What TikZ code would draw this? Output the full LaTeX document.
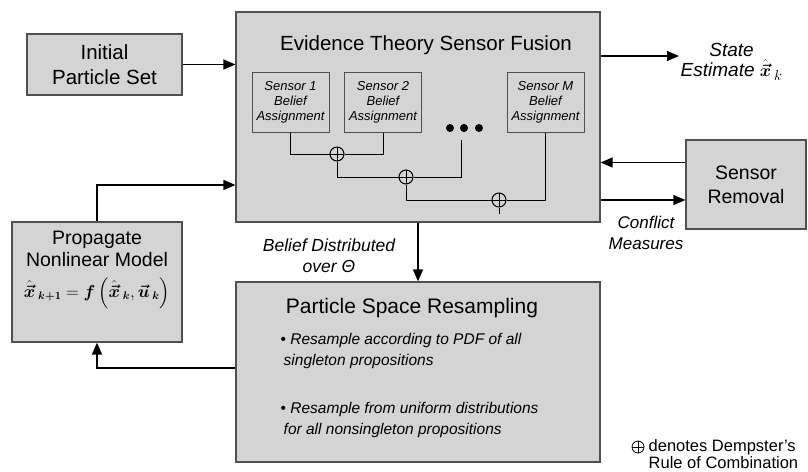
\documentclass[tikz,border=0pt]{standalone}
\usepackage{fontspec}
\setmainfont{Liberation Sans}
\usepackage{amsmath,bm}
\usetikzlibrary{arrows.meta}
\definecolor{boxgray}{RGB}{212,212,212}
\definecolor{edgegray}{RGB}{80,80,80}

\begin{document}
\begin{tikzpicture}[
    x=1pt, y=-1pt,
    line width=1.4pt,
    box/.style={draw=edgegray,fill=boxgray,line width=1.2pt,inner sep=0pt},
    sensorbox/.style={box,line width=1pt,minimum width=77pt,minimum height=60pt,
        align=center,font=\fontsize{13}{15}\selectfont\itshape},
    heading/.style={align=center,inner sep=1pt,font=\fontsize{20}{24.5}\selectfont},
    note/.style={align=center,inner sep=1pt,font=\fontsize{17.5}{21}\selectfont\itshape},
    arrow/.style={-{Triangle[length=12pt,width=10pt]},line width=1.5pt},
    wire/.style={line width=1pt},
    oplus/.style={circle,draw,line width=1pt,minimum size=14pt,inner sep=0pt,
        path picture={\draw[line width=1pt]
            (path picture bounding box.north) -- (path picture bounding box.south)
            (path picture bounding box.west) -- (path picture bounding box.east);}},
    dot/.style={circle,fill=black,minimum size=8pt,inner sep=0pt}
]

\useasboundingbox (0,0) rectangle (808,471);

% Sensor fusion block
\node[box,minimum width=364pt,minimum height=210pt] (fusion) at (418,117) {};
\node[heading,font=\fontsize{20.5}{24}\selectfont] (fusiontitle) at (426,45)
    {Evidence Theory Sensor Fusion};

\node[sensorbox] (s1) at (290.5,102) {Sensor 1\\Belief\\Assignment};
\node[sensorbox] (s2) at (383,102) {Sensor 2\\Belief\\Assignment};
\node[sensorbox] (sM) at (545.5,102) {Sensor M\\Belief\\Assignment};

\foreach \x [count=\i] in {450,464,479}
    \node[dot] (dot\i) at (\x,128) {};

\coordinate (dotsin) at (461,140);
\node[oplus] (c1) at (337,154) {};
\node[oplus] (c2) at (406,177) {};
\node[oplus] (c3) at (499,200) {};
\coordinate (fused) at (499,214);

\draw[wire] (s1.south) |- (c1.west);
\draw[wire] (c1.east) -| (s2.south);
\draw[wire] (c1.south) |- (c2.west);
\draw[wire] (c2.east) -| (dotsin);
\draw[wire] (c2.south) |- (c3.west);
\draw[wire] (c3.east) -| (sM.south);
\draw[wire] (c3.south) -- (fused);

% Left side
\node[box,heading,font=\fontsize{20.5}{25}\selectfont,minimum width=155pt,
    minimum height=61pt] (initial) at (104.5,64.5)
    {Initial\\Particle Set};

\draw[arrow] (initial.east) -- (initial.east -| fusion.west);

\node[box,minimum width=170pt,minimum height=120pt] (propagate) at (97,282) {};
\node[heading,font=\fontsize{19.5}{22}\selectfont] (proptitle) at (97,249)
    {Propagate\\Nonlinear Model};
\node[inner sep=1pt,font=\fontsize{16}{20}\selectfont] (propmodel) at (97,293)
    {$\bm{\hat{\vec{x}}}\,_{\bm{k+1}}=\bm{f}\left(\bm{\hat{\vec{x}}}\,_{\bm{k}},
    \bm{\vec{u}}\,_{\bm{k}}\right)$};

\draw[arrow] (propagate.north) |- ([yshift=-68pt]fusion.west);

% Right side
\coordinate (stateout) at ([yshift=61pt]fusion.east);
\node[note,font=\fontsize{19}{20}\selectfont\itshape,anchor=west] (state) at (679,62)
    {State\\Estimate $\bm{\hat{\vec{x}}}\,_{k}$};

\draw[arrow] (stateout) -- (stateout -| state.west);

\node[box,heading,font=\fontsize{19.5}{24}\selectfont,minimum width=120pt,
    minimum height=89pt] (removal) at (746,184.5)
    {Sensor\\Removal};

\coordinate (removalout) at ([yshift=22pt]removal.west);
\coordinate (conflictout) at ([yshift=-83pt]fusion.east);

\draw[arrow] (removalout) -- (removalout -| fusion.east);
\draw[arrow] (conflictout) -- (conflictout -| removal.west);

\node[note,font=\fontsize{17}{20.5}\selectfont\itshape] (conflict) at (646,233)
    {Conflict\\Measures};

% Resampling block
\node[box,minimum width=364pt,minimum height=180pt] (resampling) at (418,372) {};
\node[heading,font=\fontsize{21}{24}\selectfont] (restitle) at (412,308)
    {Particle Space Resampling};

\node[anchor=north west,align=left,inner sep=1pt,
    font=\fontsize{15.5}{20.5}\selectfont\itshape] (resitems) at (279,332)
{
\textup{\textbullet}\ Resample according to PDF of all\\
\hspace*{3pt}singleton propositions\\[28pt]
\textup{\textbullet}\ Resample from uniform distributions\\
\hspace*{3pt}for all nonsingleton propositions
};

\draw[arrow] (fusion.south) -- (resampling.north);
\node[note] (belief) at (329,256) {Belief Distributed\\over Θ};

\draw[arrow] ([yshift=4pt]resampling.west) -| (propagate.south);

% Legend
\node[circle,draw,line width=0.8pt,minimum size=12pt,inner sep=0pt,
    path picture={\draw[line width=0.8pt]
        (path picture bounding box.north) -- (path picture bounding box.south)
        (path picture bounding box.west) -- (path picture bounding box.east);}]
    (legendsym) at (638,447) {};
\node[anchor=west,align=left,inner sep=1pt,font=\fontsize{16.5}{14.5}\selectfont]
    (legend) at (647,454)
    {denotes Dempster’s\\Rule of Combination};

\end{tikzpicture}
\end{document}
